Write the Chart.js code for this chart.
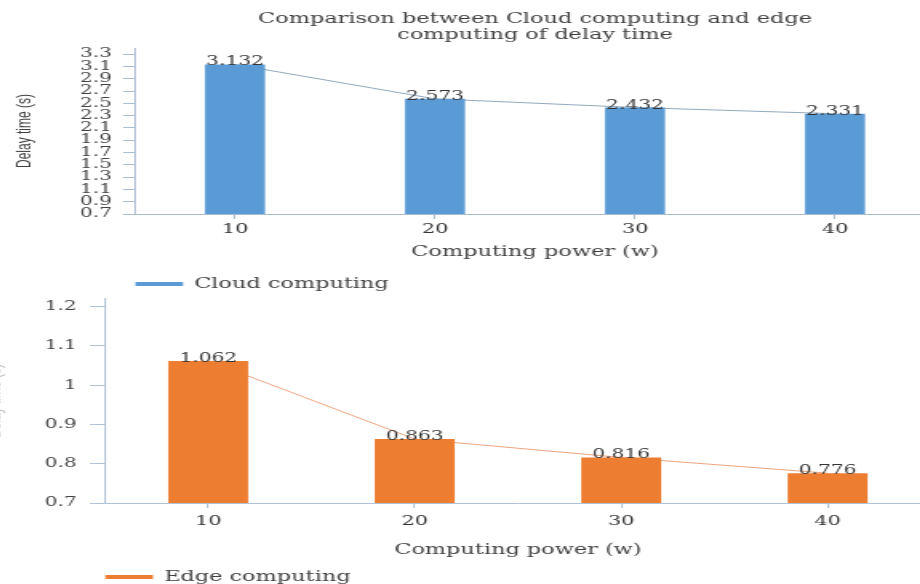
<!DOCTYPE html>
<html>
<head>
<meta charset="utf-8">
<script src="https://cdn.jsdelivr.net/npm/chart.js@4.4.0/dist/chart.umd.min.js"></script>
<style>
  html, body { margin: 0; padding: 0; background: #fff; overflow: hidden; width: 920px; height: 584px; position: relative; }
  .panel { position: absolute; transform-origin: 0 0; transform: scaleX(1.6); }
  #topPanel { left: 0; top: 0; }
  #bottomPanel { left: -30px; top: 283px; }
  canvas { display: block; }
</style>
</head>
<body>
<div class="panel" id="topPanel"><canvas id="cloudChart" width="590" height="301"></canvas></div>
<div class="panel" id="bottomPanel"><canvas id="edgeChart" width="606" height="311"></canvas></div>
<script>
// Computing power categories (w)
const powers = ['10', '20', '30', '40'];
// Delay time (s) per computing power
const cloudDelay = [3.132, 2.573, 2.432, 2.331];
const edgeDelay = [1.062, 0.863, 0.816, 0.776];
// Y-axis tick values
const cloudTicks = [0.7, 0.9, 1.1, 1.3, 1.5, 1.7, 1.9, 2.1, 2.3, 2.5, 2.7, 2.9, 3.1, 3.3];
const edgeTicks = [0.7, 0.8, 0.9, 1, 1.1, 1.2];
// Texts
const chartTitle = ['Comparison between Cloud computing and edge', 'computing of delay time'];
const yTitle = 'Delay time (s)';
const xTitle = 'Computing power (w)';
const cloudName = 'Cloud computing';
const edgeName = 'Edge computing';

const SERIF = '"DejaVu Serif", serif';

// Value written just above each bar
const valueLabels = {
  id: 'valueLabels',
  afterDatasetsDraw(chart) {
    const meta = chart.getDatasetMeta(0);
    const values = chart.data.datasets[0].data;
    const ctx = chart.ctx;
    ctx.save();
    ctx.font = '12.6px ' + SERIF;
    ctx.fillStyle = '#333';
    ctx.textAlign = 'center';
    ctx.textBaseline = 'alphabetic';
    meta.data.forEach((bar, i) => {
      ctx.fillText(values[i].toFixed(3), bar.x, bar.y + 1);
    });
    ctx.restore();
  }
};

function buildChart(canvasId, cfg) {
  const axisColor = cfg.axisColor;
  return new Chart(document.getElementById(canvasId), {
    type: 'bar',
    data: {
      labels: powers,
      datasets: [
        {
          type: 'bar',
          label: cfg.name,
          data: cfg.values,
          backgroundColor: cfg.barColor,
          borderWidth: 0,
          barPercentage: cfg.barPct,
          categoryPercentage: 1,
          order: 1
        },
        {
          type: 'line',
          label: cfg.name + ' trend',
          data: cfg.values,
          borderColor: cfg.lineColor,
          borderWidth: 1,
          pointRadius: 0,
          tension: 0,
          fill: false,
          order: 2
        }
      ]
    },
    options: {
      responsive: false,
      animation: false,
      events: [],
      layout: { padding: cfg.padding },
      plugins: {
        tooltip: { enabled: false },
        title: {
          display: !!cfg.title,
          text: cfg.title || '',
          fullSize: false,
          color: '#404040',
          font: { family: SERIF, size: 14, weight: 'normal', lineHeight: 1.1 },
          padding: { top: 12, bottom: 5.2 }
        },
        legend: {
          position: 'bottom',
          align: 'start',
          fullSize: false,
          labels: {
            boxWidth: 30,
            boxHeight: 4,
            padding: 0,
            color: '#404040',
            font: { family: SERIF, size: 14 },
            filter: item => item.datasetIndex === 0
          }
        }
      },
      scales: {
        x: {
          offset: true,
          grid: { offset: false, drawOnChartArea: false, drawTicks: true, tickLength: 5, color: axisColor },
          border: { display: true, color: axisColor, width: 1 },
          ticks: { padding: cfg.xTickPad, maxRotation: 0, color: '#333', font: { family: SERIF, size: 13 } },
          title: {
            display: true, text: xTitle, color: '#404040',
            font: { family: SERIF, size: 14 },
            padding: { top: cfg.xTitleTop, bottom: cfg.xTitleBottom }
          }
        },
        y: {
          min: 0.7,
          max: cfg.yMax,
          afterBuildTicks: scale => { scale.ticks = cfg.ticks.map(v => ({ value: v })); },
          afterFit: scale => { scale.width = 84.4; },
          grid: { drawOnChartArea: false, drawTicks: true, tickLength: cfg.yTickLen, color: axisColor },
          border: { display: true, color: axisColor, width: 1 },
          ticks: {
            autoSkip: false,
            padding: cfg.yTickPad,
            color: '#444',
            font: { family: SERIF, size: 12.5 },
            callback: v => String(v)
          },
          title: {
            display: true, text: yTitle, color: cfg.yTitleColor,
            font: { family: '"Liberation Sans", Arial, sans-serif', size: 12 },
            padding: { top: 8.4, bottom: 0 }
          }
        }
      }
    },
    plugins: [valueLabels]
  });
}

buildChart('cloudChart', {
  name: cloudName,
  values: cloudDelay,
  ticks: cloudTicks,
  yMax: 3.4,
  title: chartTitle,
  barColor: '#5B9BD5',
  lineColor: '#93A8BC',
  axisColor: '#A9BCD0',
  yTitleColor: '#404040',
  barPct: 0.3,
  padding: { top: 0, right: 5.6, bottom: 0, left: 0 },
  xTickPad: 3,
  xTitleTop: 3,
  xTitleBottom: 16.6,
  yTickLen: 7.5,
  yTickPad: 6.9
});

buildChart('edgeChart', {
  name: edgeName,
  values: edgeDelay,
  ticks: edgeTicks,
  yMax: 1.22,
  title: null,
  barColor: '#ED7D31',
  lineColor: '#EDA47E',
  axisColor: '#B0C2D6',
  yTitleColor: '#B8B8B8',
  barPct: 0.387,
  padding: { top: 3, right: 5.4, bottom: 0, left: 0 },
  xTickPad: 6,
  xTitleTop: 6,
  xTitleBottom: 11.6,
  yTickLen: 9.4,
  yTickPad: 8.4
});
</script>
</body>
</html>
